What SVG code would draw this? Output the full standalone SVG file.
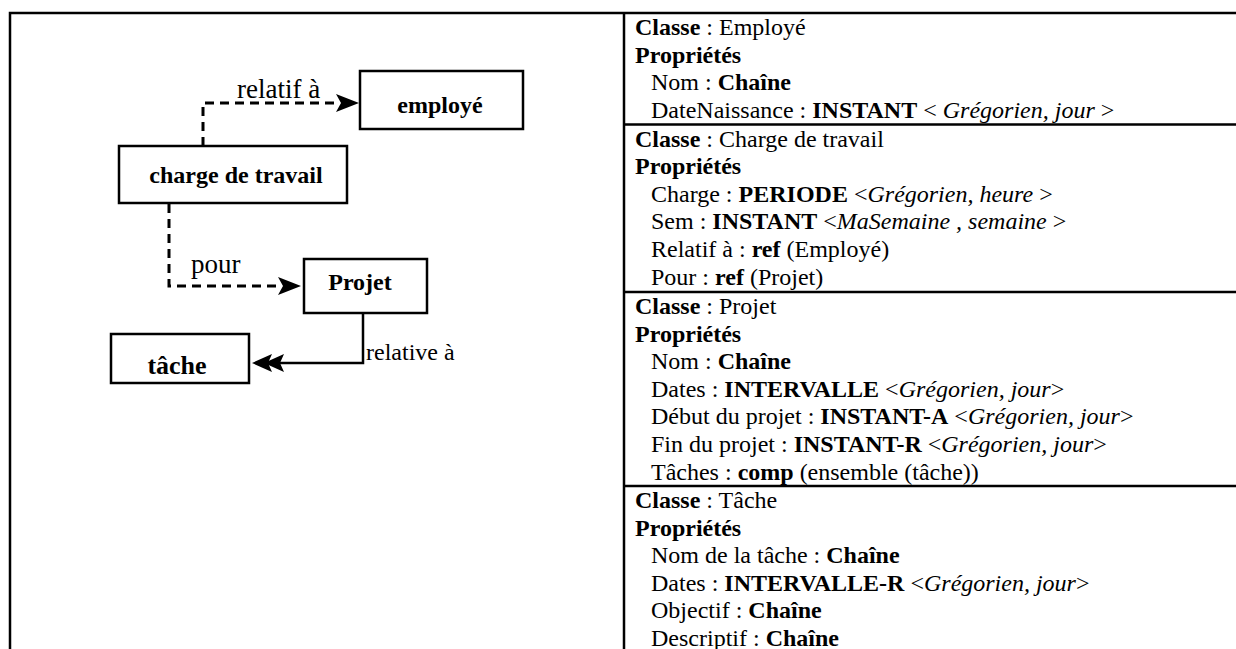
<svg xmlns="http://www.w3.org/2000/svg" width="1236" height="649" viewBox="0 0 1236 649">
<style>
text{font-family:"Liberation Serif","Times New Roman",serif;fill:#000}
.t{font-size:24px}
.b{font-weight:bold}
.i{font-style:italic}
.frame{stroke:#000;stroke-width:2.5;fill:none}
.box{fill:#fff;stroke:#000;stroke-width:2.5}
.dash{fill:none;stroke:#000;stroke-width:3;stroke-dasharray:9 6}
.solid{fill:none;stroke:#000;stroke-width:2.5}
.lbl{font-size:27px}
.nl{font-size:24px;font-weight:bold;text-anchor:middle}
</style>
<rect width="1236" height="649" fill="#fff"/>
<g id="frame">
<path class="frame" d="M10,649 V13 H1236 M624,13 V649 M624,124.5 H1236 M624,292 H1236 M624,486 H1236"/>
</g>
<g id="connectors">
<path class="dash" d="M203,146 V103 H340"/>
<path d="M359,103 L336,94 L341,103 L336,112 Z" fill="#000"/>
<text class="lbl" x="237" y="98">relatif à</text>
<path class="dash" d="M169,204 V286 H282"/>
<path d="M301,286 L278,277 L283,286 L278,295 Z" fill="#000"/>
<text class="lbl" x="191" y="273">pour</text>
<path class="solid" d="M363,313 V363 H268"/>
<path d="M252,363 L272,354 L268,363 L272,372 Z" fill="#000"/>
<path d="M264,363 L284,354 L280,363 L284,372 Z" fill="#000"/>
<text class="t" x="366" y="360">relative à</text>
</g>
<g id="employe">
<rect class="box" x="360" y="71" width="163" height="58"/>
<text class="nl" x="440" y="113">employé</text>
</g>
<g id="charge">
<rect class="box" x="119" y="146" width="228" height="57"/>
<text class="nl" x="236" y="183">charge de travail</text>
</g>
<g id="projet">
<rect class="box" x="304" y="259" width="123" height="54"/>
<text class="nl" x="360" y="290">Projet</text>
</g>
<g id="tache">
<rect class="box" x="111" y="334" width="138" height="49"/>
<text class="nl" x="177" y="374" style="font-size:26px">tâche</text>
</g>
<g id="table" class="t">
<text x="635" y="35"><tspan class="b">Classe</tspan> : Employé</text>
<text x="635" y="62.6" class="b">Propriétés</text>
<text x="651" y="90.2">Nom : <tspan class="b">Chaîne</tspan></text>
<text x="651" y="117.8">DateNaissance : <tspan class="b">INSTANT</tspan> &lt; <tspan class="i">Grégorien, jour</tspan> &gt;</text>

<text x="635" y="146.5"><tspan class="b">Classe</tspan> : Charge de travail</text>
<text x="635" y="174.1" class="b">Propriétés</text>
<text x="651" y="201.7">Charge : <tspan class="b">PERIODE</tspan> &lt;<tspan class="i">Grégorien, heure</tspan> &gt;</text>
<text x="651" y="229.3">Sem : <tspan class="b">INSTANT</tspan> &lt;<tspan class="i">MaSemaine , semaine</tspan> &gt;</text>
<text x="651" y="256.9">Relatif à : <tspan class="b">ref</tspan> (Employé)</text>
<text x="651" y="284.5">Pour : <tspan class="b">ref</tspan> (Projet)</text>

<text x="635" y="314"><tspan class="b">Classe</tspan> : Projet</text>
<text x="635" y="341.6" class="b">Propriétés</text>
<text x="651" y="369.2">Nom : <tspan class="b">Chaîne</tspan></text>
<text x="651" y="396.8">Dates : <tspan class="b">INTERVALLE</tspan> &lt;<tspan class="i">Grégorien, jour</tspan>&gt;</text>
<text x="651" y="424.4">Début du projet : <tspan class="b">INSTANT-A</tspan> &lt;<tspan class="i">Grégorien, jour</tspan>&gt;</text>
<text x="651" y="452">Fin du projet : <tspan class="b">INSTANT-R</tspan> &lt;<tspan class="i">Grégorien, jour</tspan>&gt;</text>
<text x="651" y="479.6">Tâches : <tspan class="b">comp</tspan> (ensemble (tâche))</text>

<text x="635" y="508"><tspan class="b">Classe</tspan> : Tâche</text>
<text x="635" y="535.6" class="b">Propriétés</text>
<text x="651" y="563.2">Nom de la tâche : <tspan class="b">Chaîne</tspan></text>
<text x="651" y="590.8">Dates : <tspan class="b">INTERVALLE-R</tspan> &lt;<tspan class="i">Grégorien, jour</tspan>&gt;</text>
<text x="651" y="618.4">Objectif : <tspan class="b">Chaîne</tspan></text>
<text x="651" y="646">Descriptif : <tspan class="b">Chaîne</tspan></text>
</g>
</svg>
